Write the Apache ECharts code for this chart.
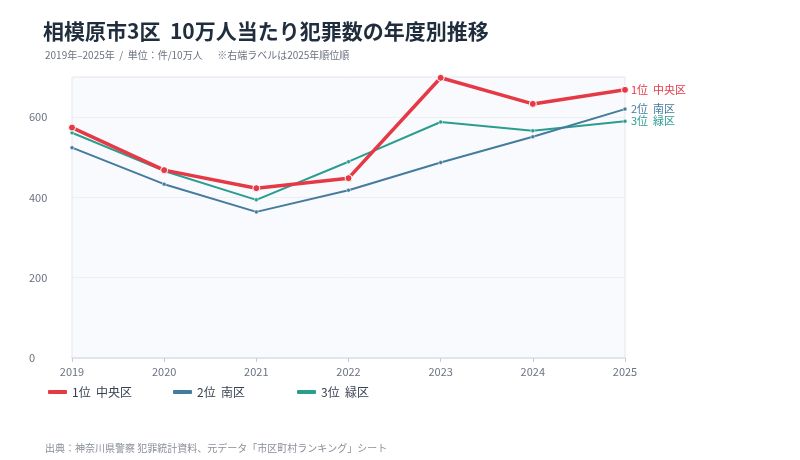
<!DOCTYPE html>
<html>
<head>
<meta charset="utf-8">
<script src="https://cdn.jsdelivr.net/npm/echarts@6/dist/echarts.min.js"></script>
<style>
  html, body { margin: 0; padding: 0; background: #fff; }
  #main { width: 800px; height: 460px; }
</style>
</head>
<body>
<div id="main"></div>
<script>
// 年度
var years = ['2019', '2020', '2021', '2022', '2023', '2024', '2025'];
// 10万人当たり犯罪数
var chuo = [574, 468, 423, 448, 698, 633, 668];
var minami = [524, 433, 364, 418, 487, 551, 620];
var midori = [561, 466, 394, 489, 588, 566, 590];
var names = ['1位  中央区', '2位  南区', '3位  緑区'];
var colors = ['#e63946', '#457b9d', '#2a9d8f'];

var font = '"Noto Sans CJK JP", "Noto Sans", sans-serif';
var chart = echarts.init(document.getElementById('main'));

function makeSeries(i, data, width, size) {
    return {
        name: names[i],
        type: 'line',
        data: data,
        symbol: 'circle',
        symbolSize: size,
        z: 10 - i,
        lineStyle: { width: width, color: colors[i] },
        itemStyle: { color: colors[i], borderColor: '#fff', borderWidth: i === 0 ? 1 : 0.5 },
        endLabel: {
            show: true,
            formatter: '{a}',
            color: colors[i],
            fontSize: 11,
            fontFamily: font,
            distance: 6
        }
    };
}

// 凡例は項目ごとに位置を固定
function makeLegend(i, left) {
    return {
        left: left,
        top: 381,
        itemWidth: 19,
        itemHeight: 4,
        icon: 'roundRect',
        itemStyle: { color: colors[i], borderWidth: 0, opacity: 1 },
        data: [names[i]],
        textStyle: { fontSize: 12, color: '#374151', fontFamily: font }
    };
}

chart.setOption({
    backgroundColor: '#fff',
    animation: false,
    title: [
        {
            text: '相模原市3区  10万人当たり犯罪数の年度別推移',
            left: 38,
            top: 16,
            textStyle: { fontSize: 21, fontWeight: 'bold', color: '#1f2d3d', fontFamily: font }
        },
        {
            text: '2019年–2025年  /  単位：件/10万人　  ※右端ラベルは2025年順位順',
            left: 40,
            top: 45,
            textStyle: { fontSize: 10, fontWeight: 'normal', color: '#6b7280', fontFamily: font }
        },
        {
            text: '出典：神奈川県警察 犯罪統計資料、元データ「市区町村ランキング」シート',
            left: 40,
            top: 438,
            textStyle: { fontSize: 10, fontWeight: 'normal', color: '#8a8f99', fontFamily: font }
        }
    ],
    legend: [makeLegend(0, 43), makeLegend(1, 168), makeLegend(2, 292)],
    grid: {
        left: 72,
        right: 175,
        top: 77,
        bottom: 102,
        show: true,
        backgroundColor: '#f9fafd',
        borderColor: '#e3e6ee',
        borderWidth: 1
    },
    xAxis: {
        type: 'category',
        data: years,
        boundaryGap: false,
        axisLine: { show: true, lineStyle: { color: '#dde1ea', width: 1.5 } },
        axisTick: { show: true, alignWithLabel: true, length: 4, lineStyle: { color: '#c7ccd6' } },
        axisLabel: { color: '#6b7280', fontSize: 11, fontFamily: font, margin: 8 },
        splitLine: { show: false }
    },
    yAxis: {
        type: 'value',
        min: 0,
        max: 700,
        interval: 200,
        axisLine: { show: false },
        axisTick: { show: false },
        axisLabel: { color: '#6b7280', fontSize: 11, fontFamily: font, align: 'left', margin: 43, showMaxLabel: false },
        splitLine: { lineStyle: { color: '#eceff4', width: 1 } }
    },
    series: [
        makeSeries(0, chuo, 3.5, 7),
        makeSeries(1, minami, 2, 4),
        makeSeries(2, midori, 2, 4)
    ]
});
</script>
</body>
</html>
